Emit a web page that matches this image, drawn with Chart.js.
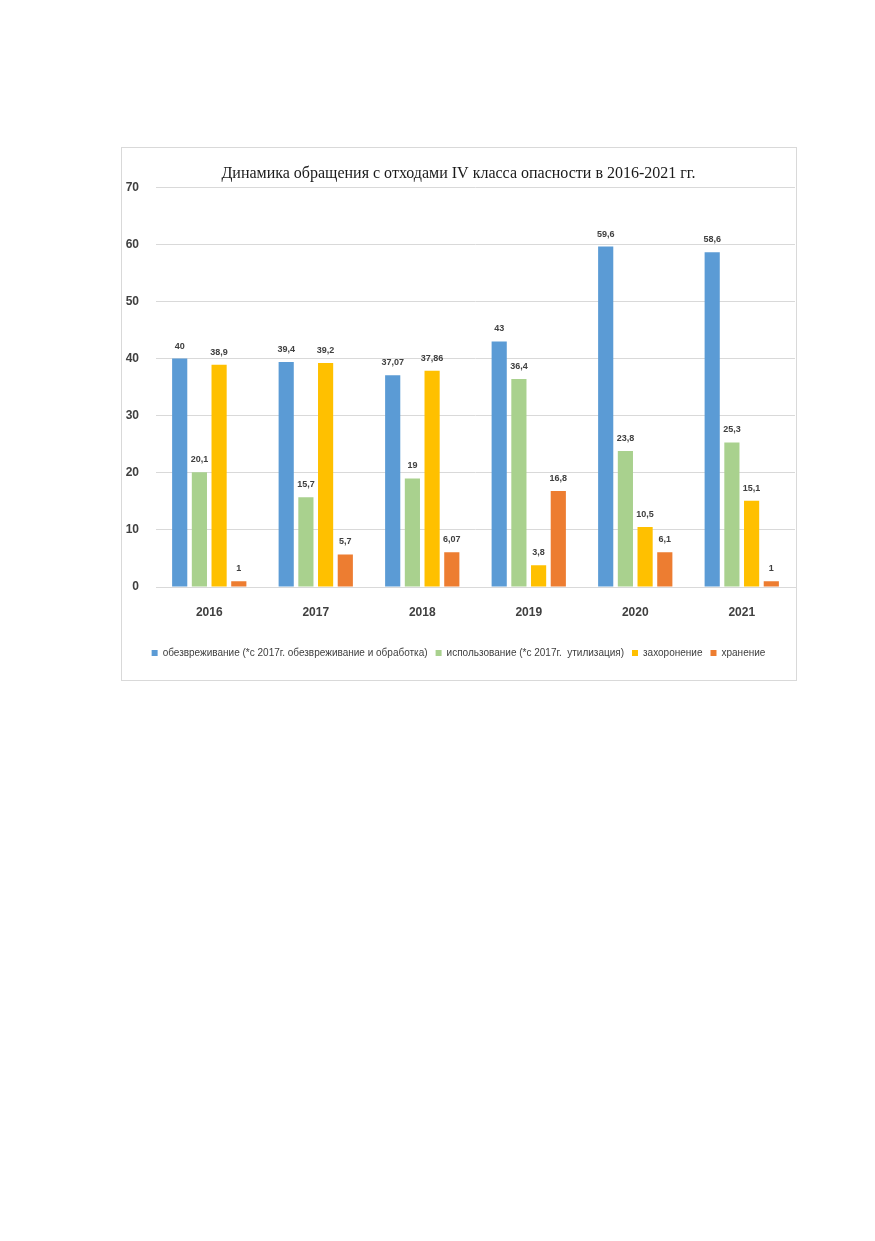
<!DOCTYPE html>
<html>
<head>
<meta charset="utf-8">
<script src="https://cdn.jsdelivr.net/npm/chart.js@4/dist/chart.umd.min.js"></script>
<style>
  html, body { margin: 0; padding: 0; background: #fff; }
  body { width: 875px; height: 1241px; position: relative; }
  #box { position: absolute; left: 121px; top: 147px; width: 674px; height: 532px; border: 1px solid #d9d9d9; }
  canvas { display: block; }
</style>
</head>
<body>
<div id="box"><canvas id="c" width="674" height="532"></canvas></div>
<script>
const categories = ['2016', '2017', '2018', '2019', '2020', '2021'];
const seriesNames = [
  'обезвреживание (*с 2017г. обезвреживание и обработка)',
  'использование (*с 2017г.  утилизация)',
  'захоронение',
  'хранение'
];
const neutralization = [40, 39.4, 37.07, 43, 59.6, 58.6];
const usage = [20.1, 15.7, 19, 36.4, 23.8, 25.3];
const burial = [38.9, 39.2, 37.86, 3.8, 10.5, 15.1];
const storage = [1, 5.7, 6.07, 16.8, 6.1, 1];
const yTicks = [0, 10, 20, 30, 40, 50, 60, 70];
const colors = ['#5b9bd5', '#a9d18e', '#ffc000', '#ed7d31'];

const FONT = "'Liberation Sans', Arial, sans-serif";

const valueLabels = {
  id: 'valueLabels',
  afterDatasetsDraw(chart) {
    const ctx = chart.ctx;
    ctx.save();
    ctx.font = 'bold 9px ' + FONT;
    ctx.fillStyle = '#404040';
    ctx.textAlign = 'center';
    ctx.textBaseline = 'bottom';
    chart.data.datasets.forEach((ds, i) => {
      const meta = chart.getDatasetMeta(i);
      meta.data.forEach((bar, j) => {
        const v = ds.data[j];
        ctx.fillText(String(v).replace('.', ','), bar.x, bar.y - 8);
      });
    });
    ctx.restore();
  }
};

const datasets = [neutralization, usage, burial, storage].map((d, i) => ({
  label: seriesNames[i],
  data: d,
  backgroundColor: colors[i],
  borderWidth: 0,
  categoryPercentage: 0.74,
  barPercentage: 0.77
}));

new Chart(document.getElementById('c'), {
  type: 'bar',
  data: { labels: categories, datasets },
  options: {
    responsive: false,
    animation: false,
    devicePixelRatio: 1,
    layout: { padding: { left: 0, right: 1, top: 0, bottom: 12 } },
    plugins: {
      title: {
        display: true,
        text: 'Динамика обращения с отходами IV класса опасности в 2016-2021 гг.',
        font: { family: "'Liberation Serif', 'Times New Roman', serif", size: 16, weight: 'normal' },
        color: '#1a1a1a',
        padding: { top: 16, bottom: 4 }
      },
      legend: {
        position: 'bottom',
        labels: {
          boxWidth: 6, boxHeight: 6, padding: 8,
          font: { family: FONT, size: 10 },
          color: '#404040'
        }
      },
      tooltip: { enabled: false }
    },
    scales: {
      x: {
        grid: { display: false, drawTicks: false },
        border: { display: true, color: '#d9d9d9' },
        ticks: { font: { family: FONT, size: 12, weight: 'bold' }, color: '#404040', padding: 18 },
        afterFit(s) { s.height = 53; }
      },
      y: {
        min: 0, max: 70,
        afterBuildTicks(s) { s.ticks = yTicks.map(v => ({ value: v })); },
        grid: { color: '#d9d9d9', drawTicks: false },
        border: { display: false },
        ticks: { font: { family: FONT, size: 12, weight: 'bold' }, color: '#404040', padding: 17 },
        afterFit(s) { s.width = 34; }
      }
    }
  },
  plugins: [valueLabels]
});
</script>
</body>
</html>
